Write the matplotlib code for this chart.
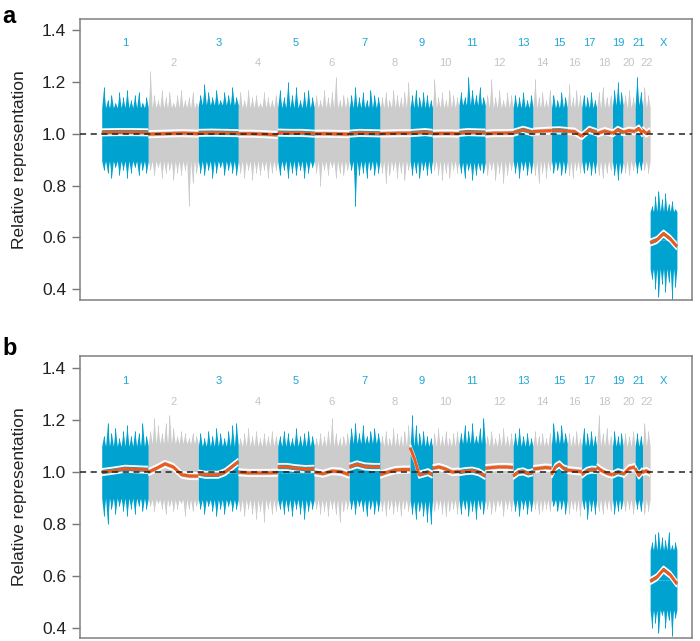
import numpy as np
import matplotlib.pyplot as plt

plt.rcParams['font.family'] = ['Liberation Sans', 'DejaVu Sans']

BLUE = "#00a3cf"
GREY = "#cccccc"
ORANGE = "#ee5a1c"
LBL_BLUE = "#1aa6d6"
LBL_GREY = "#c4c4c4"

chrom_names = [str(i) for i in range(1, 23)] + ["X"]
# approximate mappable length of each chromosome (genome units)
chrom_size = [233, 250, 200, 197, 183, 175, 154, 150, 112, 132, 132, 139,
              100, 92, 79, 72, 75, 79, 53, 60, 37, 38, 134]

# ---- panel a ----
a_core_hi = [1.10, 1.10, 1.11, 1.10, 1.10, 1.10, 1.10, 1.10, 1.10, 1.10, 1.11, 1.10,
             1.10, 1.10, 1.10, 1.10, 1.10, 1.10, 1.11, 1.10, 1.11, 1.10, 0.70]
a_core_lo = [0.895, 0.895, 0.895, 0.895, 0.895, 0.895, 0.895, 0.895, 0.895, 0.895, 0.89, 0.895,
             0.895, 0.895, 0.895, 0.895, 0.895, 0.895, 0.89, 0.895, 0.895, 0.895, 0.48]
a_up = [
    [1.18, 1.13, 1.15, 1.12, 1.16, 1.14, 1.17, 1.13, 1.15, 1.16, 1.12, 1.14],
    [1.24, 1.15, 1.13, 1.17, 1.14, 1.16, 1.12, 1.15, 1.17, 1.13, 1.14, 1.16, 1.12],
    [1.15, 1.19, 1.16, 1.14, 1.17, 1.13, 1.16, 1.15, 1.18, 1.14],
    [1.16, 1.13, 1.17, 1.14, 1.15, 1.12, 1.16, 1.14, 1.13, 1.15],
    [1.17, 1.14, 1.20, 1.15, 1.18, 1.13, 1.16, 1.17, 1.14],
    [1.15, 1.13, 1.17, 1.14, 1.16, 1.22, 1.13, 1.15, 1.14],
    [1.15, 1.18, 1.14, 1.16, 1.13, 1.17, 1.15, 1.14],
    [1.14, 1.16, 1.13, 1.17, 1.15, 1.14, 1.16, 1.20],
    [1.15, 1.17, 1.14, 1.16, 1.15, 1.13],
    [1.21, 1.14, 1.16, 1.13, 1.17, 1.15, 1.14],
    [1.16, 1.14, 1.22, 1.17, 1.15, 1.18, 1.14],
    [1.15, 1.21, 1.14, 1.17, 1.13, 1.16, 1.15],
    [1.15, 1.14, 1.16, 1.13, 1.15],
    [1.21, 1.14, 1.16, 1.13, 1.17],
    [1.15, 1.13, 1.16, 1.14],
    [1.19, 1.14, 1.17, 1.15],
    [1.15, 1.14, 1.16, 1.13],
    [1.16, 1.18, 1.14, 1.15],
    [1.17, 1.20, 1.16],
    [1.15, 1.17, 1.14],
    [1.22, 1.16],
    [1.18, 1.15],
    [0.72, 0.76, 0.78, 0.75, 0.77, 0.73, 0.74, 0.71],
]
a_dn = [
    [0.86, 0.85, 0.83, 0.87, 0.84, 0.86, 0.83, 0.85, 0.87, 0.84, 0.86, 0.85],
    [0.86, 0.84, 0.87, 0.83, 0.85, 0.86, 0.82, 0.85, 0.84, 0.86, 0.72, 0.81, 0.85],
    [0.85, 0.84, 0.86, 0.83, 0.85, 0.87, 0.84, 0.86, 0.85, 0.84],
    [0.85, 0.83, 0.86, 0.82, 0.85, 0.84, 0.86, 0.83, 0.85, 0.86],
    [0.84, 0.86, 0.83, 0.85, 0.84, 0.86, 0.83, 0.85, 0.87],
    [0.85, 0.80, 0.86, 0.84, 0.87, 0.83, 0.85, 0.84, 0.86],
    [0.86, 0.72, 0.84, 0.85, 0.83, 0.86, 0.84, 0.85],
    [0.85, 0.81, 0.84, 0.86, 0.83, 0.85, 0.82, 0.86],
    [0.84, 0.85, 0.83, 0.86, 0.84, 0.85],
    [0.86, 0.84, 0.82, 0.85, 0.83, 0.86, 0.85],
    [0.85, 0.83, 0.86, 0.82, 0.84, 0.86, 0.85],
    [0.84, 0.86, 0.82, 0.85, 0.81, 0.84, 0.86],
    [0.85, 0.83, 0.86, 0.84, 0.85],
    [0.84, 0.81, 0.85, 0.83, 0.86],
    [0.85, 0.86, 0.84, 0.85],
    [0.84, 0.83, 0.86, 0.85],
    [0.85, 0.86, 0.84, 0.85],
    [0.84, 0.83, 0.85, 0.86],
    [0.84, 0.82, 0.85],
    [0.85, 0.84, 0.86],
    [0.85, 0.86],
    [0.86, 0.85],
    [0.44, 0.40, 0.37, 0.42, 0.39, 0.43, 0.36, 0.41],
]
a_smooth = [
    [1.005, 1.006, 1.006, 1.005],
    [0.998, 1.0, 1.002, 1.0],
    [1.003, 1.004, 1.003, 1.002],
    [1.0, 1.0, 0.998, 0.995],
    [1.004, 1.003, 1.003, 1.0],
    [1.0, 1.0, 0.999, 0.998],
    [1.0, 1.003, 1.002, 1.001],
    [1.0, 1.001, 1.002, 1.002],
    [1.002, 1.004, 1.006, 1.003],
    [1.0, 1.001, 1.001, 1.0],
    [1.003, 1.006, 1.005, 1.004],
    [1.0, 1.002, 1.002, 1.003],
    [1.003, 1.015, 1.004],
    [1.008, 1.01, 1.012],
    [1.012, 1.013, 1.01],
    [1.01, 1.008, 0.99],
    [0.99, 1.015, 1.005],
    [1.0, 1.01, 1.002],
    [1.0, 1.015, 1.005],
    [1.005, 1.012, 1.008],
    [1.01, 1.02, 1.0],
    [1.015, 1.0, 1.01],
    [0.58, 0.59, 0.615, 0.595, 0.565],
]

# ---- panel b ----
b_core_hi = [1.10, 1.11, 1.10, 1.10, 1.10, 1.10, 1.11, 1.10, 1.10, 1.10, 1.11, 1.10,
             1.10, 1.10, 1.11, 1.10, 1.10, 1.10, 1.10, 1.10, 1.10, 1.10, 0.70]
b_core_lo = [0.90, 0.895, 0.895, 0.895, 0.895, 0.895, 0.895, 0.895, 0.89, 0.895, 0.895, 0.895,
             0.895, 0.895, 0.895, 0.895, 0.895, 0.895, 0.895, 0.895, 0.895, 0.895, 0.47]
b_up = [
    [1.14, 1.19, 1.15, 1.17, 1.13, 1.16, 1.18, 1.14, 1.16, 1.15, 1.19, 1.14],
    [1.16, 1.21, 1.18, 1.15, 1.19, 1.22, 1.17, 1.14, 1.16, 1.15, 1.13, 1.15, 1.14],
    [1.15, 1.13, 1.16, 1.14, 1.17, 1.15, 1.13, 1.16, 1.18, 1.19],
    [1.13, 1.15, 1.17, 1.14, 1.16, 1.13, 1.15, 1.14, 1.16, 1.14],
    [1.14, 1.16, 1.15, 1.13, 1.17, 1.14, 1.15, 1.16, 1.14],
    [1.13, 1.15, 1.14, 1.16, 1.21, 1.15, 1.13, 1.14, 1.15],
    [1.17, 1.19, 1.15, 1.18, 1.14, 1.16, 1.17, 1.15],
    [1.14, 1.16, 1.13, 1.17, 1.15, 1.14, 1.16, 1.18],
    [1.22, 1.18, 1.15, 1.16, 1.14, 1.13],
    [1.15, 1.17, 1.14, 1.16, 1.13, 1.15, 1.16],
    [1.15, 1.18, 1.16, 1.19, 1.14, 1.17, 1.21],
    [1.14, 1.16, 1.13, 1.15, 1.17, 1.14, 1.15],
    [1.15, 1.17, 1.14, 1.15, 1.13],
    [1.16, 1.14, 1.15, 1.13, 1.15],
    [1.19, 1.16, 1.18, 1.15],
    [1.15, 1.14, 1.16, 1.13],
    [1.17, 1.15, 1.16, 1.14],
    [1.22, 1.15, 1.17, 1.14],
    [1.16, 1.14, 1.15],
    [1.15, 1.14, 1.16],
    [1.15, 1.14],
    [1.19, 1.16],
    [0.73, 0.76, 0.77, 0.75, 0.74, 0.77, 0.72, 0.73],
]
b_dn = [
    [0.83, 0.80, 0.86, 0.84, 0.87, 0.85, 0.83, 0.86, 0.84, 0.87, 0.85, 0.86],
    [0.87, 0.85, 0.88, 0.86, 0.84, 0.87, 0.85, 0.86, 0.88, 0.83, 0.86, 0.85, 0.87],
    [0.86, 0.84, 0.87, 0.85, 0.83, 0.86, 0.84, 0.87, 0.85, 0.86],
    [0.85, 0.83, 0.86, 0.84, 0.82, 0.85, 0.81, 0.86, 0.84, 0.85],
    [0.86, 0.84, 0.85, 0.83, 0.86, 0.84, 0.82, 0.85, 0.86],
    [0.86, 0.84, 0.85, 0.83, 0.86, 0.84, 0.81, 0.85, 0.86],
    [0.86, 0.84, 0.87, 0.85, 0.83, 0.86, 0.84, 0.85],
    [0.85, 0.83, 0.86, 0.84, 0.85, 0.83, 0.86, 0.85],
    [0.84, 0.82, 0.85, 0.83, 0.81, 0.80],
    [0.85, 0.86, 0.84, 0.83, 0.85, 0.86, 0.84],
    [0.84, 0.86, 0.83, 0.85, 0.82, 0.86, 0.84],
    [0.86, 0.84, 0.85, 0.87, 0.83, 0.86, 0.85],
    [0.85, 0.83, 0.86, 0.84, 0.85],
    [0.86, 0.84, 0.85, 0.86, 0.85],
    [0.87, 0.85, 0.86, 0.84],
    [0.84, 0.86, 0.85, 0.83],
    [0.86, 0.82, 0.85, 0.84],
    [0.85, 0.84, 0.86, 0.85],
    [0.84, 0.85, 0.86],
    [0.85, 0.86, 0.84],
    [0.86, 0.85],
    [0.84, 0.85],
    [0.40, 0.42, 0.38, 0.45, 0.40, 0.43, 0.37, 0.44],
]
b_smooth = [
    [1.0, 1.006, 1.013, 1.011, 1.009],
    [1.0, 1.015, 1.032, 1.02, 0.99, 0.985, 0.985],
    [0.995, 0.99, 0.99, 0.99, 1.0, 1.02, 1.04],
    [1.0, 0.997, 0.997, 0.997, 0.998],
    [1.02, 1.02, 1.015, 1.012, 1.013],
    [1.0, 0.994, 1.004, 1.002, 0.99],
    [1.02, 1.03, 1.022, 1.02, 1.02],
    [0.99, 1.0, 1.008, 1.01, 1.01],
    [1.095, 1.05, 0.99, 0.995, 1.0, 0.99],
    [1.015, 1.02, 1.012, 1.0, 1.003],
    [1.0, 1.004, 1.006, 1.0, 0.985],
    [1.015, 1.018, 1.02, 1.02, 1.018],
    [0.985, 1.0, 1.003, 0.995, 1.0],
    [1.012, 1.015, 1.018, 1.016],
    [0.99, 1.02, 1.03, 1.015, 1.01],
    [1.008, 1.005, 1.002],
    [0.99, 1.005, 1.01, 1.008],
    [1.02, 1.005, 0.995, 0.99],
    [0.99, 1.0, 0.995],
    [0.99, 1.015, 1.02],
    [1.015, 0.987, 1.005],
    [1.0, 1.005, 0.997],
    [0.58, 0.595, 0.625, 0.605, 0.57],
]

starts = np.concatenate([[0], np.cumsum(chrom_size)[:-1]])
ends = starts + np.array(chrom_size)


def sawtooth(s, w, core, tips):
    # jagged edge: core level between read spike tips
    n = len(tips)
    xs = s + w * np.arange(2 * n + 1) / (2 * n)
    ys = np.full(2 * n + 1, core, dtype=float)
    ys[1::2] = tips
    return xs, ys


def draw_panel(ax, core_hi, core_lo, ups, dns, smooth, ylim):
    for i, name in enumerate(chrom_names):
        s, e = starts[i], ends[i]
        w = e - s
        col = BLUE if (i % 2 == 0 or name == "X") else GREY
        mid = (core_hi[i] + core_lo[i]) / 2

        xu, yu = sawtooth(s, w, core_hi[i], ups[i])
        ax.fill_between(xu, mid, yu, color=col, lw=0, zorder=1)
        xd, yd = sawtooth(s, w, core_lo[i], dns[i])
        ax.fill_between(xd, mid, yd, color=col, lw=0, zorder=1)
        ax.vlines(xu[1::2], mid, ups[i], color=col, lw=0.7, zorder=1)
        ax.vlines(xd[1::2], mid, dns[i], color=col, lw=0.7, zorder=1)

        sm = np.array(smooth[i])
        xs = np.linspace(s, e, len(sm))
        ax.plot(xs, sm + 0.012, color="white", lw=1.3, zorder=3, solid_capstyle="butt")
        ax.plot(xs, sm - 0.012, color="white", lw=1.3, zorder=3, solid_capstyle="butt")
        ax.plot(xs, sm, color=ORANGE, lw=2.2, zorder=4, solid_capstyle="butt")

        cx = (s + e) / 2
        if i % 2 == 0 or name == "X":
            ax.text(cx, 1.35, name, color=LBL_BLUE, fontsize=8, ha="center", va="center")
        else:
            ax.text(cx, 1.272, name, color=LBL_GREY, fontsize=8, ha="center", va="center")

    ax.axhline(1.0, color="#222222", lw=1.1, ls=(0, (4, 3)), zorder=5)
    ax.set_xlim(-108.5, 2951.5)
    ax.set_ylim(*ylim)
    ax.set_yticks([0.4, 0.6, 0.8, 1.0, 1.2, 1.4])
    ax.set_yticklabels(["0.4", "0.6", "0.8", "1.0", "1.2", "1.4"])
    ax.set_xticks([])
    ax.tick_params(axis="y", direction="out", length=6, width=1, color="#777777",
                   labelsize=12.5, labelcolor="#222222", pad=4)
    for sp in ax.spines.values():
        sp.set_color("#808080")
        sp.set_linewidth(1.1)
    ax.set_ylabel("Relative representation", fontsize=12.5, color="#222222", labelpad=11)


fig = plt.figure(figsize=(7.0, 6.41), dpi=100)
ax_a = fig.add_axes([0.1143, 0.532, 0.8743, 0.4384])
ax_b = fig.add_axes([0.1143, 0.0047, 0.8743, 0.4404])

draw_panel(ax_a, a_core_hi, a_core_lo, a_up, a_dn, a_smooth, (0.359, 1.442))
draw_panel(ax_b, b_core_hi, b_core_lo, b_up, b_dn, b_smooth, (0.3615, 1.4485))

fig.text(0.003, 0.992, "a", fontsize=17, fontweight="bold", va="top", ha="left")
fig.text(0.003, 0.475, "b", fontsize=17, fontweight="bold", va="top", ha="left")

fig.savefig("out.png", dpi=100)
